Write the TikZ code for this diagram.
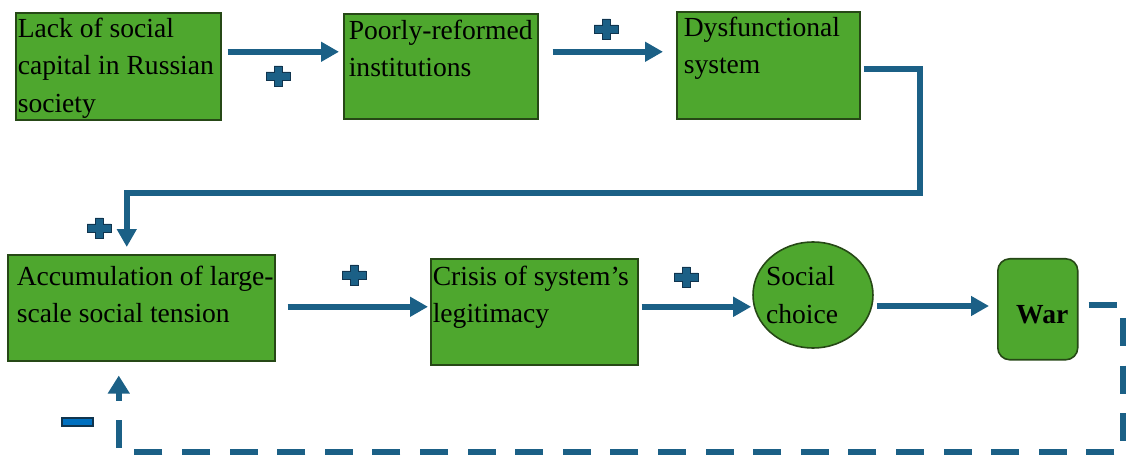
\documentclass[tikz,border=0pt]{standalone}
\usepackage{fontspec}
\setmainfont{Liberation Serif}
\usetikzlibrary{arrows.meta,shapes.geometric}

\definecolor{flowblue}{RGB}{27,96,134}
\definecolor{boxgreen}{RGB}{78,167,46}
\definecolor{boxedge}{RGB}{38,72,22}
\definecolor{signedge}{RGB}{16,52,78}
\definecolor{minusblue}{RGB}{0,112,192}
\newcommand{\boxtxt}[3]{\parbox[c][#2][t]{#1}{#3}}

\begin{document}
\begin{tikzpicture}[x=0.02cm, y=-0.02cm,
    blok/.style={rectangle,draw=boxedge,fill=boxgreen,line width=0.9pt,anchor=north west,
        font=\fontsize{15.7}{21.5}\selectfont},
    flow/.style={draw=flowblue,line width=0.12cm,-{Triangle[length=0.36cm,width=0.38cm]}},
    fback/.style={draw=flowblue,line width=0.13cm,dash pattern=on 0.56cm off 0.392cm,
        -{Triangle[length=0.36cm,width=0.42cm]}},
    sign/.style={fill=flowblue,draw=signedge,line width=0.5pt},
    minus/.style={fill=minusblue,draw=signedge,line width=0.6pt},
]
    \useasboundingbox (0,0) rectangle (1126,459);

    %%%
    % top row
    \node[blok,inner xsep=0.04cm,inner ysep=0.1cm] (lack) at (15,12)
        {\boxtxt{4.02cm}{1.94cm}{\mbox{Lack of social}\\\mbox{capital in Russian}\\society}};
    \node[blok,inner xsep=0.1cm,inner ysep=0.12cm] (poor) at (343,13)
        {\boxtxt{3.68cm}{1.86cm}{\mbox{Poorly-reformed}\\institutions}};
    \node[blok,inner xsep=0.14cm,inner ysep=0.1cm] (dys) at (676,11)
        {\boxtxt{3.38cm}{1.94cm}{\mbox{Dysfunctional}\\system}};

    %%%
    % bottom row
    \node[blok,inner xsep=0.18cm,inner ysep=0.22cm] (accum) at (7,254)
        {\boxtxt{4.98cm}{1.68cm}{\mbox{Accumulation of large-}\\\mbox{scale social tension}}};
    \node[blok,inner xsep=0.04cm,inner ysep=0.14cm] (crisis) at (430,258)
        {\boxtxt{4.06cm}{1.84cm}{\mbox{Crisis of system’s}\\legitimacy}};
    \node[blok,ellipse,anchor=center,inner sep=0pt,minimum width=2.4cm,minimum height=2.12cm,
        align=left] (choice) at (813,295)
        {\hspace*{-0.22cm}Social\\\hspace*{-0.22cm}choice\hspace*{0.22cm}};
    \node[blok,rounded corners=0.24cm,inner sep=0pt,minimum width=1.6cm,minimum height=2.02cm,
        text height=0.56cm,text depth=0cm] (war) at (997,258)
        {\hspace*{0.18cm}\textbf{War}};

    %%%
    % connectors
    \draw[flow,shorten <=0.12cm,shorten >=0.08cm] ([yshift=0.29cm]lack.east) -- ([yshift=0.29cm]lack.east -| poor.west);
    \draw[flow,shorten <=0.28cm,shorten >=0.26cm] ([yshift=0.29cm]poor.east) -- ([yshift=0.29cm]poor.east -| dys.west);
    \draw[flow,shorten <=0.06cm,shorten >=0.14cm] ([yshift=-0.07cm]dys.east) -| (920,193) -| ([xshift=-0.29cm]accum.north);
    \draw[flow,shorten <=0.24cm,shorten >=0.04cm] ([yshift=0.02cm]accum.east) -- ([yshift=0.02cm]accum.east -| crisis.west);
    \draw[flow,shorten <=0.06cm,shorten >=0.02cm] ([yshift=0.1cm]crisis.east) -- ([yshift=0.1cm]crisis.east -| choice.west);
    \draw[flow,shorten <=0.06cm,shorten >=0.16cm] ([yshift=-0.22cm]choice.east) -- ([yshift=-0.22cm]choice.east -| war.west);
    \draw[fback,shorten <=0.2cm,shorten >=0.28cm] ([yshift=0.09cm]war.east) -| (1123,452) -| ([xshift=-0.45cm]accum.south);

    %%%
    % signs
    \foreach \p in {(278,76),(606,29),(99,228),(354,275),(686,277)}
    \draw[sign,shift={\p}] (-4,-10) -- (4,-10) -- (4,-4) -- (12,-4) -- (12,4) -- (4,4)
        -- (4,10) -- (-4,10) -- (-4,4) -- (-12,4) -- (-12,-4) -- (-4,-4) -- cycle;
    \draw[minus] (62,418) rectangle (93,426);

\end{tikzpicture}
\end{document}
